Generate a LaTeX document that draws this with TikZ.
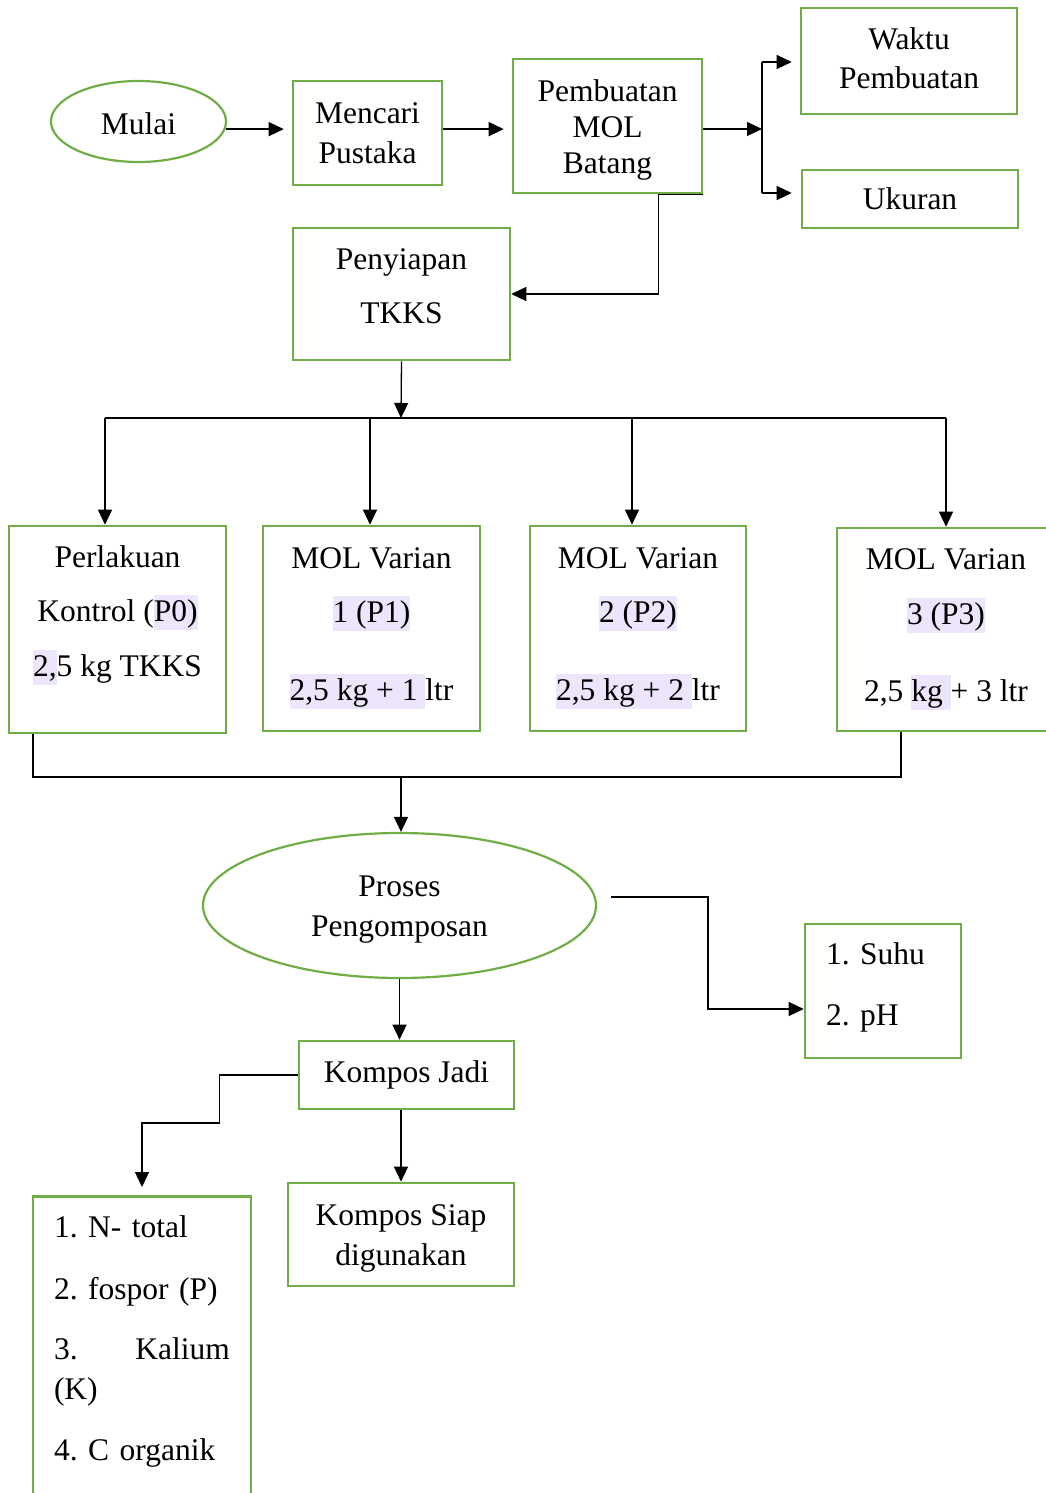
\documentclass[tikz,border=0pt]{standalone}
\usepackage{fontspec}
\setmainfont{Liberation Serif}
\usetikzlibrary{shapes.geometric}
\usetikzlibrary{arrows.meta}
\usetikzlibrary{calc}
\definecolor{boxgreen}{RGB}{112,173,71}
\definecolor{hlcol}{RGB}{236,229,252}
\newcommand{\hlt}[1]{{\setlength{\fboxsep}{0pt}\colorbox{hlcol}{\rule[-0.25em]{0pt}{1.1em}#1}}}
\tikzset{
  box/.style={draw=boxgreen, line width=2.6pt, align=center, inner sep=0pt, font=\fontsize{31.5}{40}\selectfont\frenchspacing},
  oval/.style={ellipse, draw=boxgreen, line width=2.2pt, align=center, inner sep=0pt, font=\fontsize{31.5}{40}\selectfont},
  arr/.style={line width=1.3pt, -{Triangle[length=15pt,width=14pt]}},
  link/.style={line width=1.3pt}
}
\begin{document}
\begin{tikzpicture}[x=1pt,y=-1pt]
\useasboundingbox (0,0) rectangle (1046,1493);
% top row
\node[oval, minimum width=175pt, minimum height=81pt, text height=26pt] (mulai) at (138.5,121.5) {Mulai};
\node[box, minimum width=149pt, minimum height=104pt] (pustaka) at (367.5,133) {Mencari\\Pustaka};
\node[box, minimum width=189pt, minimum height=134pt] (mol) at (607.5,126) {\mbox{}\\[-10pt]Pembuatan\\[-4pt]MOL\\[-4pt]Batang};
\node[box, minimum width=216pt, minimum height=106pt] (waktu) at (909,61) {Waktu\\[-1pt]Pembuatan\\[-34pt]\mbox{}};
\node[box, minimum width=216pt, minimum height=58pt] (ukuran) at (910,199) {Ukuran};
\node[box, minimum width=217pt, minimum height=132pt] (tkks) at (401.5,294) {Penyiapan\\[14pt]TKKS\\[-24pt]\mbox{}};
% the four treatments
\node[box, minimum width=217pt, minimum height=207pt] (p0) at (117.5,629.5) {Perlakuan\\[14pt]Kontrol (\hlt{P0)}\\[15pt]\hlt{2,}5 kg TKKS\\[-4pt]\mbox{}};
\node[box, minimum width=217pt, minimum height=205pt] (p1) at (371.5,628.5) {MOL Varian\\[14pt]\hlt{1 (P1)}\\[38pt]\hlt{2,5 kg + 1 }ltr};
\node[box, minimum width=216pt, minimum height=205pt] (p2) at (638,628.5) {MOL Varian\\[14pt]\hlt{2 (P2)}\\[38pt]\hlt{2,5 kg + 2 }ltr};
\node[box, minimum width=218pt, minimum height=203pt] (p3) at (946,629.5) {MOL Varian\\[15pt]\hlt{3 (P3)}\\[37pt]2,5 \hlt{kg }+ 3 ltr};
% composting
\node[oval, minimum width=393pt, minimum height=145pt] (proses) at (399.5,905.5) {\mbox{}\\[-12pt]Proses\\Pengomposan};
\node[box, minimum width=156pt, minimum height=134pt, align=left, text width=114pt] (ukur) at (883,991) {1. Suhu\\[21pt]2. pH\\[-27pt]\mbox{}};
\node[box, minimum width=215pt, minimum height=68pt] (jadi) at (406.5,1075) {Kompos Jadi};
\node[box, minimum width=226pt, minimum height=103pt] (siap) at (401,1234.5) {\mbox{}\\[-12pt]Kompos Siap\\digunakan};
\node[box, anchor=north, minimum width=218pt, text width=176pt, inner xsep=21pt, inner ysep=19.5pt, align=left] (uji) at (142,1195) {1. N- total\\[22pt]2. fospor (P)\\[20pt]3.\hfill Kalium\\(K)\\[21pt]4. C organik\\[40pt]\mbox{}};
% arrows of the top row
\draw[arr, shorten >=8pt] (mulai.-5) -- (pustaka.west |- mulai.-5);
\draw[arr, shorten >=8pt] (pustaka.east |- mulai.-5) -- (mol.west |- mulai.-5);
\coordinate (fork) at (762,129);
\coordinate (forkTop) at (762,62);
\coordinate (forkBot) at (762,193);
\draw[arr] (mol.east |- fork) -- (fork);
\draw[link] (forkTop) -- (forkBot);
\draw[arr, shorten >=8pt] (forkTop) -- (waktu.west |- forkTop);
\draw[arr, shorten >=9pt] (forkBot) -- (ukuran.west |- forkBot);
\draw[arr] (mol.south east) -- ++(-45,0) |- (tkks.east);
% split into the treatments
\coordinate (busTop) at (401,418);
\coordinate (b0) at (105,418);
\coordinate (b1) at (370,418);
\coordinate (b2) at (632,418);
\coordinate (b3) at (946,418);
\draw[arr] (tkks.south) -- (busTop);
\draw[link] (b0) -- (b3);
\draw[arr] (b0) -- (b0 |- p0.north);
\draw[arr] (b1) -- (b1 |- p1.north);
\draw[arr] (b2) -- (b2 |- p2.north);
\draw[arr] (b3) -- (b3 |- p3.north);
% join again
\coordinate (c0) at (33,777);
\coordinate (c3) at (901,777);
\coordinate (cMid) at (401,777);
\draw[link] (c0 |- p0.south) -- (c0) -- (c3) -- (c3 |- p3.south);
\draw[arr] (cMid) -- (cMid |- proses.north);
% after composting
\coordinate (pOut) at (611,897);
\draw[arr] (pOut) -- ++(97,0) |- ($(ukur.west)+(0,18)$);
\draw[arr] (proses.south) -- (proses.south |- jadi.north);
\draw[arr] (siap.north |- jadi.south) -- (siap.north);
\draw[arr, shorten >=8pt] (jadi.west) -- ++(-78,0) -- ++(0,48) -| (uji.north);
\end{tikzpicture}
\end{document}
